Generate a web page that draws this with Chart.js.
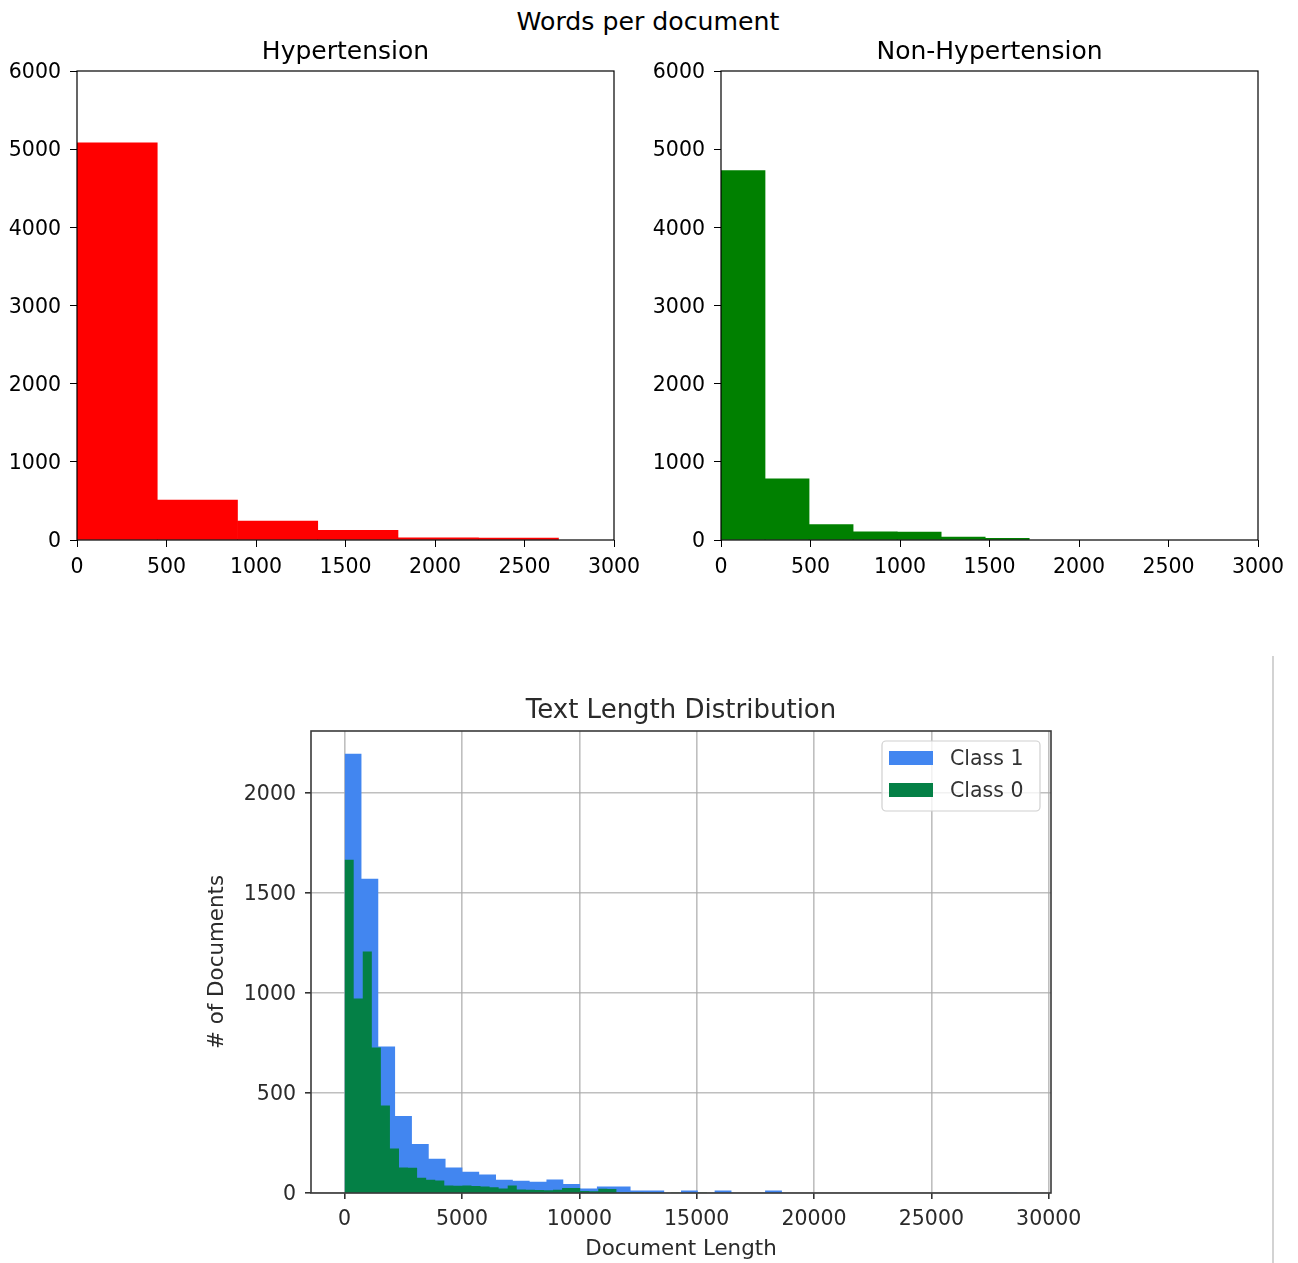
<!DOCTYPE html>
<html>
<head>
<meta charset="utf-8">
<title>Words per document</title>
<script src="https://cdn.jsdelivr.net/npm/chart.js@4.4.0/dist/chart.umd.min.js"></script>
<style>
  body { margin: 0; background: #fff; width: 1298px; height: 1263px; position: relative; overflow: hidden; font-family: "DejaVu Sans", sans-serif; }
  #suptitle { position: absolute; left: 0; top: 7px; width: 1296px; text-align: center; font-size: 25.2px; line-height: 30px; color: #000; }
  canvas { position: absolute; }
  #hyperChart { left: 0; top: 0; }
  #nonChart { left: 644px; top: 0; }
  #lenChart { left: 190px; top: 680px; filter: blur(0.55px); }
  #sep { position: absolute; left: 1272px; top: 656px; width: 2px; height: 607px; background: #d3d3d3; }
</style>
</head>
<body>
<div id="suptitle">Words per document</div>
<canvas id="hyperChart" width="640" height="600"></canvas>
<canvas id="nonChart" width="640" height="600"></canvas>
<canvas id="lenChart" width="900" height="583"></canvas>
<div id="sep"></div>
<script>
'use strict';
// top histograms (bins start at 0)
let hyperBinWidth = 448.3;
let hyperCounts = [5080, 512, 243, 124, 28, 24];
let nonBinWidth = 246;
let nonCounts = [4725, 782, 197, 104, 101, 38, 21];
let topXTicks = [0, 500, 1000, 1500, 2000, 2500, 3000];
let topYTicks = [0, 1000, 2000, 3000, 4000, 5000, 6000];

// bottom histogram: text length distribution
let class1BinWidth = 716.6;
let class1Counts = [2196, 1571, 733, 385, 245, 171, 128, 106, 92, 66,
    61, 56, 67, 45, 22, 32, 32, 12, 12, 0,
    12, 0, 12, 0, 0, 12, 0, 0, 0, 0,
    0, 0, 0, 0, 0, 0, 0, 0, 0, 1];
let class0BinWidth = 386;
let class0Counts = [1666, 973, 1208, 727, 437, 222, 127, 126, 76, 66,
    62, 38, 36, 38, 35, 32, 29, 22, 37, 18,
    16, 15, 14, 16, 25, 25, 10, 9, 21, 20,
    3, 2, 2, 1, 1, 0, 1, 0, 0, 1];
let lenXTicks = [0, 5000, 10000, 15000, 20000, 25000, 30000];
let lenYTicks = [0, 500, 1000, 1500, 2000];

let framePlugin = {
    id: 'frame',
    afterDraw(chart, args, opts) {
        let a = chart.chartArea;
        let ctx = chart.ctx;
        ctx.save();
        ctx.strokeStyle = opts.color;
        ctx.lineWidth = opts.width;
        ctx.strokeRect(a.left, a.top, a.right - a.left, a.bottom - a.top);
        ctx.restore();
    }
};

// matplotlib style legend box in the upper right corner
let boxLegend = {
    id: 'boxLegend',
    afterDraw(chart) {
        let a = chart.chartArea;
        let ctx = chart.ctx;
        let w = 158, h = 70;
        let x = a.right - 11 - w, y = a.top + 10;
        ctx.save();
        ctx.fillStyle = 'rgba(255,255,255,0.8)';
        ctx.strokeStyle = '#d0d0d0';
        ctx.lineWidth = 1.2;
        ctx.beginPath();
        ctx.roundRect(x, y, w, h, 4);
        ctx.fill();
        ctx.stroke();
        ctx.font = '20.5px "DejaVu Sans"';
        ctx.textBaseline = 'middle';
        chart.data.datasets.forEach((ds, i) => {
            let cy = y + 17 + i * 32;
            ctx.fillStyle = ds.backgroundColor;
            ctx.fillRect(x + 7, cy - 7, 44, 14);
            ctx.fillStyle = '#333';
            ctx.fillText(ds.label, x + 68, cy + 2);
        });
        ctx.restore();
    }
};

// drop the label overhang so the plot area comes only from the layout padding
function noOverhang(s) {
    s.paddingLeft = 0;
    s.paddingRight = 0;
    s.paddingTop = 0;
    s.paddingBottom = 0;
}

let tickFont = { family: 'DejaVu Sans', size: 20.5 };

function topChart(id, title, binWidth, counts, color) {
    let points = counts.map((c, i) => ({ x: binWidth * i + binWidth / 2, y: c }));
    return new Chart(document.getElementById(id), {
        type: 'bar',
        data: {
            datasets: [{
                data: points,
                backgroundColor: color,
                borderWidth: 0,
                barPercentage: 1,
                categoryPercentage: 1
            }]
        },
        plugins: [framePlugin],
        options: {
            responsive: false,
            animation: false,
            layout: { padding: { left: 0, right: 26, top: 0, bottom: 0 } },
            plugins: {
                legend: { display: false },
                tooltip: { enabled: false },
                title: {
                    display: true,
                    fullSize: false,
                    text: title,
                    color: '#000',
                    font: { family: 'DejaVu Sans', size: 25, weight: 'normal' },
                    padding: { top: 37, bottom: 4 }
                },
                frame: { color: '#000', width: 1.2 }
            },
            scales: {
                x: {
                    type: 'linear',
                    min: 0,
                    max: 3000,
                    offset: false,
                    afterBuildTicks: s => { s.ticks = topXTicks.map(v => ({ value: v })); },
                    afterFit: s => { s.height = 60; noOverhang(s); },
                    grid: { offset: false, drawOnChartArea: false, tickLength: 7, color: '#000', tickColor: '#000' },
                    border: { display: false },
                    ticks: { color: '#000', font: tickFont, padding: 8, maxRotation: 0, callback: v => String(v) }
                },
                y: {
                    min: 0,
                    max: 6000,
                    afterBuildTicks: s => { s.ticks = topYTicks.map(v => ({ value: v })); },
                    afterFit: s => { s.width = 77; noOverhang(s); },
                    grid: { drawOnChartArea: false, tickLength: 7, color: '#000', tickColor: '#000' },
                    border: { display: false },
                    ticks: { color: '#000', font: tickFont, padding: 9, labelOffset: 2, callback: v => String(v) }
                }
            }
        }
    });
}

topChart('hyperChart', 'Hypertension', hyperBinWidth, hyperCounts, '#ff0000');
topChart('nonChart', 'Non-Hypertension', nonBinWidth, nonCounts, '#008000');

// step outline points for a histogram: left edge of each bin, then the last right edge
function stepPoints(binWidth, counts) {
    let pts = counts.map((c, i) => ({ x: binWidth * i, y: c }));
    pts.push({ x: binWidth * counts.length, y: 0 });
    return pts;
}

let textColor = '#2a2a2a';
let gridColor = 'rgba(170,170,170,0.75)';

new Chart(document.getElementById('lenChart'), {
    type: 'line',
    data: {
        datasets: [
            {
                label: 'Class 1',
                data: stepPoints(class1BinWidth, class1Counts),
                backgroundColor: '#4286f0',
                borderWidth: 0,
                pointRadius: 0,
                stepped: true,
                fill: 'origin',
                order: 1
            },
            {
                label: 'Class 0',
                data: stepPoints(class0BinWidth, class0Counts),
                backgroundColor: '#048046',
                borderWidth: 0,
                pointRadius: 0,
                stepped: true,
                fill: 'origin',
                order: 0
            }
        ]
    },
    plugins: [framePlugin, boxLegend],
    options: {
        responsive: false,
        animation: false,
        layout: { padding: { left: 0, right: 39, top: 0, bottom: 0 } },
        plugins: {
            legend: { display: false },
            tooltip: { enabled: false },
            title: {
                display: true,
                fullSize: false,
                text: 'Text Length Distribution',
                color: textColor,
                font: { family: 'DejaVu Sans', size: 26, weight: 'normal' },
                padding: { top: 15.4, bottom: 4.4 }
            },
            frame: { color: '#3a3a3a', width: 1.6 }
        },
        scales: {
            x: {
                type: 'linear',
                min: -1433,
                max: 30097,
                z: 1,
                afterBuildTicks: s => { s.ticks = lenXTicks.map(v => ({ value: v })); },
                afterFit: s => { s.height = 70; noOverhang(s); },
                grid: { color: gridColor, lineWidth: 1.6, tickLength: 6, tickColor: '#333' },
                border: { display: false },
                ticks: { color: textColor, font: tickFont, padding: 8, maxRotation: 0, callback: v => String(v) },
                title: {
                    display: true,
                    text: 'Document Length',
                    color: textColor,
                    font: { family: 'DejaVu Sans', size: 21.4 },
                    padding: { top: 0, bottom: 0.5 }
                }
            },
            y: {
                min: 0,
                max: 2310,
                z: 1,
                afterBuildTicks: s => { s.ticks = lenYTicks.map(v => ({ value: v })); },
                afterFit: s => { s.width = 121; noOverhang(s); },
                grid: { color: gridColor, lineWidth: 1.6, tickLength: 6, tickColor: '#333' },
                border: { display: false },
                ticks: { color: textColor, font: tickFont, padding: 9, labelOffset: 2, callback: v => String(v) },
                title: {
                    display: true,
                    text: '# of Documents',
                    color: textColor,
                    font: { family: 'DejaVu Sans', size: 21.4 },
                    padding: { top: 15, bottom: 0 }
                }
            }
        }
    }
});
</script>
</body>
</html>
